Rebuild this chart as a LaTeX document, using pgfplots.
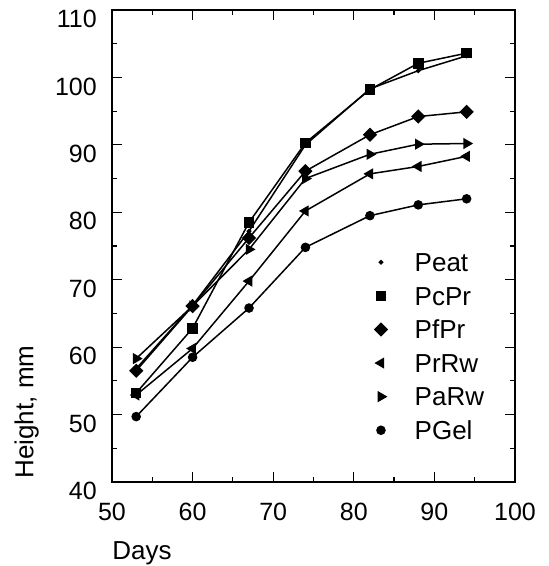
\documentclass[border=0pt]{standalone}
\usepackage{fontspec}
\setmainfont{Liberation Sans}
\usepackage{pgfplots}
\pgfplotsset{compat=1.18}
\begin{document}
\begin{tikzpicture}
\useasboundingbox (-112pt,-84pt) rectangle (437pt,482pt);
\begin{axis}[
  at={(0pt,0pt)}, anchor=south west,
  scale only axis, width=403pt, height=472pt,
  xmin=50, xmax=100, ymin=40, ymax=110,
  xtick={50,60,...,100}, ytick={40,50,...,110},
  minor tick num=1,
  tick align=inside,
  major tick length=10pt, minor tick length=5pt,
  axis line style={line width=1.4pt},
  every tick/.style={black, line width=1.2pt},
  /pgf/number format/assume math mode=true,
  tick label style={font=\fontsize{25}{28}\selectfont, inner sep=0pt},
  xticklabel style={anchor=center, yshift=-30pt},
  yticklabel style={anchor=east, xshift=-15pt, yshift=-9pt},
  xlabel={Days}, ylabel={Height, mm},
  label style={font=\fontsize{26}{29}\selectfont, inner sep=0pt},
  xlabel style={at={(axis description cs:0.0744,-0.1504)}, anchor=center},
  ylabel style={at={(axis description cs:-0.2117,0.1483)}, anchor=center},
  legend style={at={(axis cs:82.26,74.0)}, anchor=north west, draw=none, fill=none,
    inner sep=0pt, row sep=15pt, column sep=0pt,
    font=\fontsize{26}{29}\selectfont,
    nodes={inner sep=0pt, text height=18.6pt, text depth=0pt}},
  legend cell align=left,
  legend image code/.code={\draw[#1] plot coordinates {(0pt,0pt)}; \path (-8pt,0pt) (33pt,0pt);},
]
\addplot[black, solid, line width=1.5pt, mark=*, mark size=1.6, mark options={solid, fill=black}] coordinates {(53,56.8) (60,66.2) (67,77.2) (74,90.0) (82,98.3) (88,101.0) (94,103.2)};
\addlegendentry{Peat}
\addplot[black, solid, line width=1.5pt, mark=square*, mark size=4.5, mark options={solid, fill=black}] coordinates {(53,53.2) (60,62.8) (67,78.5) (74,90.3) (82,98.2) (88,102.1) (94,103.6)};
\addlegendentry{PcPr}
\addplot[black, solid, line width=1.5pt, mark=square*, mark size=4.3, mark options={solid, fill=black, rotate=45}] coordinates {(53,56.5) (60,66.1) (67,76.2) (74,86.1) (82,91.5) (88,94.2) (94,94.9)};
\addlegendentry{PfPr}
\addplot[black, solid, line width=1.5pt, mark=triangle*, mark size=5, mark options={solid, fill=black, rotate=90}] coordinates {(53,52.9) (60,59.8) (67,69.8) (74,80.2) (82,85.7) (88,86.8) (94,88.3)};
\addlegendentry{PrRw}
\addplot[black, solid, line width=1.5pt, mark=triangle*, mark size=5, mark options={solid, fill=black, rotate=-90}] coordinates {(53,58.3) (60,66.1) (67,74.5) (74,85.0) (82,88.6) (88,90.1) (94,90.2)};
\addlegendentry{PaRw}
\addplot[black, solid, line width=1.5pt, mark=*, mark size=4, mark options={solid, fill=black}] coordinates {(53,49.7) (60,58.5) (67,65.8) (74,74.8) (82,79.5) (88,81.1) (94,82.0)};
\addlegendentry{PGel}
\end{axis}
\end{tikzpicture}
\end{document}
